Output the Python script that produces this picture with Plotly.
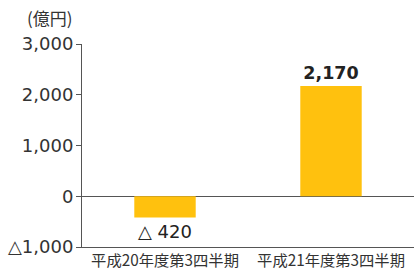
import plotly.graph_objects as go

categories = ["平成20年度第3四半期", "平成21年度第3四半期"]
values = [-420, 2170]
tick_vals = [-1000, 0, 1000, 2000, 3000]
tick_text = ["△1,000", "0", "1,000", "2,000", "3,000"]
unit_label = "(億円)"

def fmt(v):
    return f"△ {abs(v):,}" if v < 0 else f"<b>{v:,}</b>"

labels = [fmt(v) for v in values]
label_sizes = [18 if v < 0 else 17.5 for v in values]

FONT = "Noto Sans CJK JP"
NUMFONT = "DejaVu Sans"
AX = "#555555"

fig = go.Figure(go.Bar(
    x=categories, y=values, text=labels, textposition="outside",
    textfont=dict(size=label_sizes, color="#222222", family=NUMFONT),
    marker=dict(color="#FFC10E", line=dict(width=0)),
    cliponaxis=False, width=0.37,
))

fig.update_layout(
    width=416, height=271,
    margin=dict(l=82, r=2, t=44, b=24, autoexpand=False),
    paper_bgcolor="white", plot_bgcolor="white",
    showlegend=False,
    font=dict(family=FONT, color="#333333"),
    annotations=[dict(text=unit_label, xref="paper", yref="paper", x=-0.02, y=1.0,
                      xanchor="right", yanchor="bottom", yshift=12, showarrow=False,
                      font=dict(size=17, color="#333333", family=FONT))],
)
fig.update_yaxes(
    range=[-1000, 3000], tickvals=tick_vals, ticktext=tick_text,
    showline=True, linecolor=AX, linewidth=1, automargin=False,
    ticks="outside", ticklen=5, tickcolor=AX, ticklabelstandoff=-1,
    showgrid=False, zeroline=True, zerolinecolor=AX, zerolinewidth=1,
    tickfont=dict(size=18, color="#333333", family=NUMFONT),
)
fig.update_xaxes(
    showline=True, linecolor=AX, linewidth=1, ticks="", automargin=False,
    tickfont=dict(size=15.3, color="#333333", family=FONT),
    showgrid=False, zeroline=False,
)

fig.write_html("out.html", config={"displayModeBar": False},
               post_script="document.body.style.margin='0';document.body.style.overflow='hidden';")
